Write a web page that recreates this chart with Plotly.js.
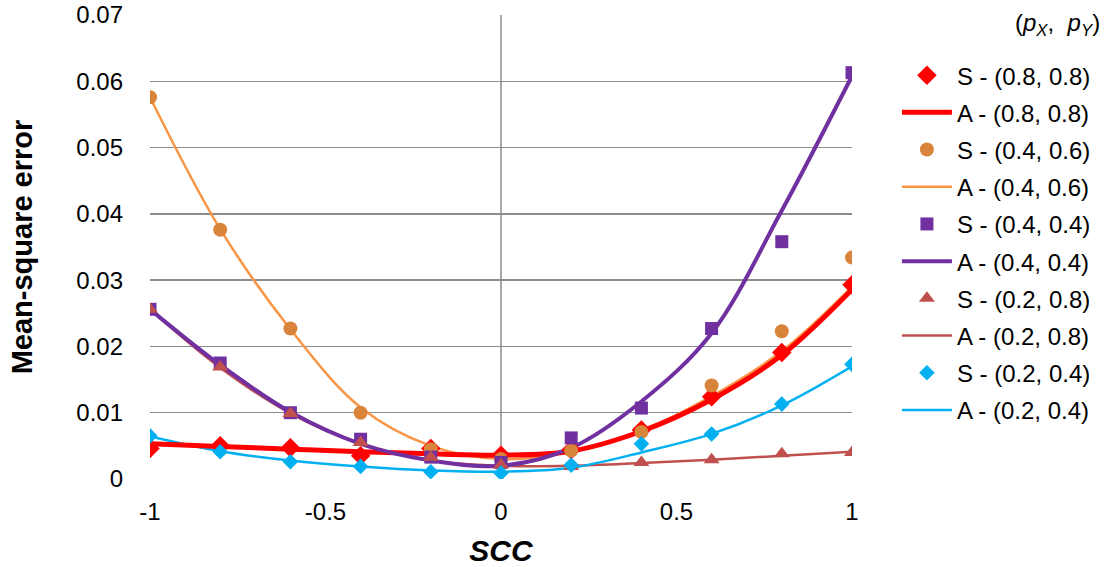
<!DOCTYPE html>
<html>
<head>
<meta charset="utf-8">
<script src="https://cdn.plot.ly/plotly-3.0.1.min.js"></script>
<style>html,body{margin:0;padding:0;background:#fff;}#chart{width:1114px;height:567px;}</style>
</head>
<body>
<div id="chart"></div>
<script>
const scc = [-1, -0.8, -0.6, -0.4, -0.2, 0, 0.2, 0.4, 0.6, 0.8, 1];

const sim_08_08 = [0.0046, 0.0050, 0.0047, 0.0035, 0.0046, 0.0036, 0.0044, 0.0074, 0.0124, 0.0191, 0.0293];
const ana_08_08 = [0.0053, 0.0049, 0.0045, 0.0041, 0.0038, 0.0036, 0.0042, 0.0072, 0.0120, 0.0187, 0.0286];
const sim_04_06 = [0.0576, 0.0376, 0.0227, 0.0100, 0.0045, 0.0030, 0.0043, 0.0071, 0.0141, 0.0223, 0.0334];
const ana_04_06 = [0.0576, 0.0377, 0.0226, 0.0108, 0.0050, 0.0030, 0.0041, 0.0073, 0.0125, 0.0193, 0.0290];
const sim_04_04 = [0.0256, 0.0175, 0.0100, 0.0060, 0.0033, 0.0025, 0.0062, 0.0107, 0.0227, 0.0358, 0.0613];
const ana_04_04 = [0.0256, 0.0172, 0.0101, 0.0053, 0.0028, 0.0020, 0.0047, 0.0117, 0.0220, 0.0405, 0.0608];
const sim_02_08 = [0.0256, 0.0169, 0.0099, 0.0055, 0.0033, 0.0021, 0.0019, 0.0025, 0.0029, 0.0038, 0.0040];
const ana_02_08 = [0.0256, 0.0168, 0.0099, 0.0053, 0.0028, 0.0020, 0.0020, 0.0024, 0.0029, 0.0035, 0.0041];
const sim_02_04 = [0.0065, 0.0041, 0.0026, 0.0019, 0.0011, 0.0009, 0.0021, 0.0053, 0.0068, 0.0113, 0.0173];
const ana_02_04 = [0.0064, 0.0042, 0.0028, 0.0019, 0.0013, 0.0011, 0.0017, 0.0040, 0.0068, 0.0111, 0.0170];

const names = ['(0.8, 0.8)', '(0.4, 0.6)', '(0.4, 0.4)', '(0.2, 0.8)', '(0.2, 0.4)'];

function S(y, name, symbol, color, size, g) {
  return {x: scc, y: y, name: 'S - ' + name, mode: 'markers', type: 'scatter', cliponaxis: false,
    legendgroup: g, zorder: 2, marker: {symbol: symbol, color: color, size: size}};
}
function A(y, name, color, width, g, z) {
  return {x: scc, y: y, name: 'A - ' + name, mode: 'lines', type: 'scatter', cliponaxis: false,
    legendgroup: g, zorder: z, line: {color: color, width: width, shape: 'spline', smoothing: 1}};
}

const data = [
  S(sim_08_08, names[0], 'diamond', '#FF0000', 15, 'g01'),
  A(ana_08_08, names[0], '#FF0000', 5, 'g02', 1),
  S(sim_04_06, names[1], 'circle', '#D9843B', 14, 'g03'),
  A(ana_04_06, names[1], '#F79646', 2.5, 'g04', 0),
  S(sim_04_04, names[2], 'square', '#7030A0', 13, 'g05'),
  A(ana_04_04, names[2], '#7030A0', 4, 'g06', 1),
  S(sim_02_08, names[3], 'triangle-up', '#C0504D', 14, 'g07'),
  A(ana_02_08, names[3], '#C0504D', 2.5, 'g08', 0),
  S(sim_02_04, names[4], 'diamond', '#00B0F0', 12, 'g09'),
  A(ana_02_04, names[4], '#00B0F0', 2.5, 'g10', 0),
];

const font = 'Liberation Sans, Arial, sans-serif';
const layout = {
  width: 1114, height: 567,
  margin: {l: 150, r: 262, t: 15, b: 88, autoexpand: false},
  paper_bgcolor: '#fff', plot_bgcolor: '#fff',
  font: {family: font, size: 24, color: '#000'},
  showlegend: true,
  legend: {x: 1.064, xanchor: 'left', y: 0.918, yanchor: 'top', traceorder: 'grouped',
    tracegroupgap: 3, font: {size: 24, family: font}, itemwidth: 50, bgcolor: 'rgba(0,0,0,0)'},
  xaxis: {range: [-1, 1], showgrid: false, zeroline: false, showline: false,
    tickvals: [-1, -0.5, 0, 0.5, 1], ticktext: ['-1', '-0.5', '0', '0.5', '1'],
    ticks: '', ticklabelstandoff: 16, tickfont: {size: 24},
    title: {text: '<b><i>SCC</i></b>', font: {size: 30}, standoff: 16}},
  yaxis: {range: [0, 0.07], showgrid: true, gridcolor: '#8C8C8C', gridwidth: 1.5,
    zeroline: false, showline: false, ticks: '', ticklabelstandoff: 26,
    tickvals: [0, 0.01, 0.02, 0.03, 0.04, 0.05, 0.06, 0.07],
    ticktext: ['0', '0.01', '0.02', '0.03', '0.04', '0.05', '0.06', '0.07'],
    tickfont: {size: 24},
    title: {text: '<b>Mean-square error</b>', font: {size: 29}, standoff: 35}},
  shapes: [{type: 'line', xref: 'x', yref: 'paper', x0: 0, x1: 0, y0: 0, y1: 1,
    line: {color: '#8C8C8C', width: 1.5}, layer: 'below'}],
  annotations: [{xref: 'paper', yref: 'paper', x: 1.356, y: 1.017, xanchor: 'right', yanchor: 'top',
    showarrow: false, text: '(<i>p</i><sub><i>X</i></sub>,  <i>p</i><sub><i>Y</i></sub>)',
    font: {size: 24, family: font}}]
};

Plotly.newPlot('chart', data, layout, {displayModeBar: false, staticPlot: true});
</script>
</body>
</html>
